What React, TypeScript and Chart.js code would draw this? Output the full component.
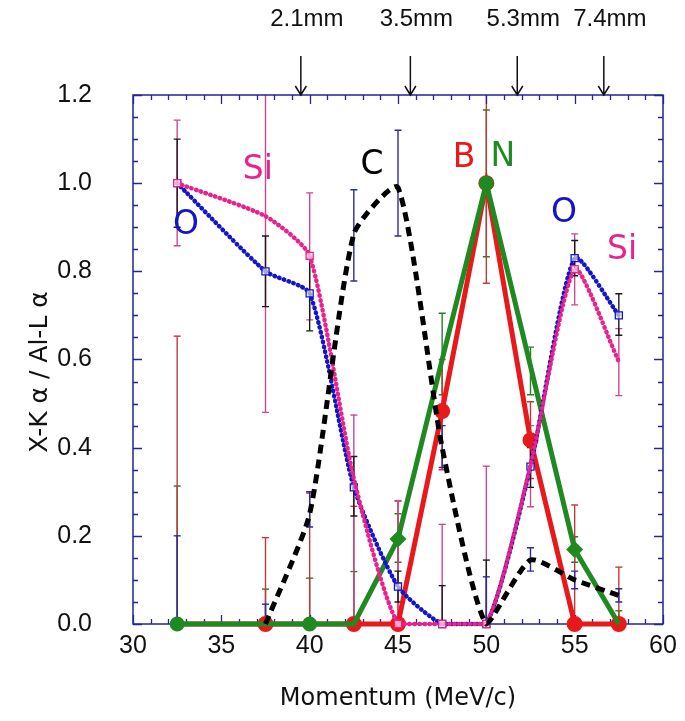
import React, { useEffect, useRef } from 'react';
import { Chart, registerables } from 'chart.js';

Chart.register(...registerables);

// ---- data ----
const momentum = [32.5, 37.5, 40, 42.5, 45, 47.5, 50, 52.5, 55, 57.5];

const oValues = [1.0, 0.8, 0.75, 0.31, 0.085, 0, 0, 0.357, 0.83, 0.7];
const siValues = [1.0, 0.925, 0.835, 0.33, 0, 0, 0, 0.36, 0.805, 0.595];
const cValues = [null, 0, 0.25, 0.885, 0.99, 0.4, 0, 0.145, 0.1, 0.065];
const bValues = [0, 0, 0, 0, 0, 0.483, 1.0, 0.417, 0, 0];
const nValues = [0, 0, 0, 0, 0.193, 0.6, 1.0, 0.585, 0.169, 0];

const oErrLo = [0.9, 0.72, 0.665, 0.245, 0.05, 0, 0, 0.31, 0.79, 0.655];
const oErrHi = [1.1, 0.88, 0.83, 0.38, 0.12, 0.087, 0.145, 0.4, 0.87, 0.749];
const siErrLo = [0.858, 0.48, 0.69, 0, 0, 0, 0, 0.266, 0.724, 0.518];
const siErrHi = [1.143, 1.25, 0.978, 0.474, 0.28, 0.226, 0.358, 0.45, 0.885, 0.67];
const bErrLo = [0, 0, 0, 0, 0, 0.35, 0.773, 0.33, 0, 0];
const bErrHi = [0.653, 0.196, 0.297, 0.267, 0.279, 0.6, 1.23, 0.504, 0.27, 0.129];
const nErrLo = [0, 0, 0, 0, 0.14, 0.52, 0.833, 0.52, 0.14, 0];
const nErrHi = [0.313, 0.079, 0.104, 0.119, 0.25, 0.705, 1.166, 0.628, 0.198, 0.03];
const cErrLo = [0, 0, 0.22, 0.778, 0.88, 0.355, 0, 0.12, 0.08, 0.05];
const cErrHi = [0.2, 0.045, 0.3, 0.985, 1.12, 0.45, 0.107, 0.173, 0.12, 0.08];

const yTickValues = [0, 0.2, 0.4, 0.6, 0.8, 1.0, 1.2];
const xTickValues = [30, 35, 40, 45, 50, 55, 60];

const depthLabels = ['2.1mm', '3.5mm', '5.3mm', '7.4mm'];
const depthMomentum = [39.5, 45.7, 51.75, 56.65];

const elementNames = ['O', 'Si', 'C', 'B', 'N', 'O', 'Si'];

// ---- styles / positions ----
const BLUE = '#1414c8';
const PINK = '#e8238c';
const RED = '#e8191b';
const GREEN = '#1f8a22';
const AXIS = '#23239a';

const elementColors = [BLUE, PINK, '#000000', RED, GREEN, BLUE, PINK];
const elementPosX = [33.0, 37.07, 43.53, 48.74, 50.94, 54.4, 57.68];
const elementPosY = [0.905, 1.03, 1.041, 1.057, 1.059, 0.932, 0.848];

const errorSets = [
  { lo: nErrLo, hi: nErrHi, color: '#2c7a2c' },
  { lo: bErrLo, hi: bErrHi, color: '#c03a3a' },
  { lo: siErrLo, hi: siErrHi, color: '#c84a90' },
  { lo: oErrLo, hi: oErrHi, color: '#1a1a1a' },
  { lo: cErrLo, hi: cErrHi, color: '#2a2aa8' },
];

const pts = (vals: (number | null)[]) => momentum.map((x, i) => ({ x, y: vals[i] }));

const decorPlugin = {
  id: 'decor',
  beforeDatasetsDraw(chart: any) {
    const { ctx, chartArea: a, scales } = chart;
    const xs = scales.x;
    const ys = scales.y;
    ctx.save();
    ctx.beginPath();
    ctx.rect(a.left, a.top, a.right - a.left, a.bottom - a.top);
    ctx.clip();
    errorSets.forEach((s) => {
      ctx.strokeStyle = s.color;
      ctx.lineWidth = 1.4;
      momentum.forEach((m, i) => {
        const px = xs.getPixelForValue(m);
        const y1 = ys.getPixelForValue(s.lo[i]);
        const y2 = ys.getPixelForValue(s.hi[i]);
        ctx.beginPath();
        ctx.moveTo(px, y1);
        ctx.lineTo(px, y2);
        ctx.stroke();
        ctx.beginPath();
        if (s.lo[i] > 0) {
          ctx.moveTo(px - 3.5, y1);
          ctx.lineTo(px + 3.5, y1);
        }
        ctx.moveTo(px - 3.5, y2);
        ctx.lineTo(px + 3.5, y2);
        ctx.stroke();
      });
    });
    ctx.restore();

    ctx.save();
    ctx.strokeStyle = AXIS;
    ctx.lineWidth = 1.5;
    ctx.strokeRect(a.left, a.top, a.right - a.left, a.bottom - a.top);
    ctx.lineWidth = 1.3;
    ctx.beginPath();
    for (let v = 30; v <= 60; v += 1) {
      const px = Math.round(xs.getPixelForValue(v)) + 0.5;
      const len = v % 5 === 0 ? 9 : 5;
      ctx.moveTo(px, a.bottom);
      ctx.lineTo(px, a.bottom - len);
      ctx.moveTo(px, a.top);
      ctx.lineTo(px, a.top + len);
    }
    for (let k = 0; k <= 24; k++) {
      const v = k * 0.05;
      const py = Math.round(ys.getPixelForValue(v)) + 0.5;
      const len = k % 4 === 0 ? 9 : 5;
      ctx.moveTo(a.left, py);
      ctx.lineTo(a.left + len, py);
      ctx.moveTo(a.right, py);
      ctx.lineTo(a.right - len, py);
    }
    ctx.stroke();
    ctx.restore();
  },
  afterDraw(chart: any) {
    const { ctx, chartArea: a, scales } = chart;
    const xs = scales.x;
    const ys = scales.y;
    ctx.save();
    ctx.fillStyle = '#111';
    ctx.textAlign = 'center';
    ctx.textBaseline = 'middle';
    ctx.font = '24px "DejaVu Sans"';
    ctx.fillText('Momentum (MeV/c)', (a.left + a.right) / 2, 699);
    ctx.save();
    ctx.translate(40, 372);
    ctx.rotate(-Math.PI / 2);
    ctx.font = '25px "DejaVu Sans"';
    ctx.fillText('X-K α / Al-L α', 0, 0);
    ctx.restore();

    ctx.strokeStyle = '#111';
    ctx.lineWidth = 1.5;
    ctx.font = '24px "Liberation Sans"';
    depthMomentum.forEach((m, i) => {
      const px = xs.getPixelForValue(m);
      ctx.fillText(depthLabels[i], px + 6, 19);
      ctx.beginPath();
      ctx.moveTo(px, 56);
      ctx.lineTo(px, a.top);
      ctx.moveTo(px - 5.5, a.top - 9);
      ctx.lineTo(px, a.top);
      ctx.lineTo(px + 5.5, a.top - 9);
      ctx.stroke();
    });

    ctx.font = '33px "DejaVu Sans"';
    elementNames.forEach((t, i) => {
      ctx.fillStyle = elementColors[i];
      ctx.fillText(t, xs.getPixelForValue(elementPosX[i]), ys.getPixelForValue(elementPosY[i]));
    });
    ctx.restore();
  },
};

export default function App() {
  const ref = useRef<HTMLCanvasElement>(null);
  useEffect(() => {
    if (!ref.current) return;
    const chart = new Chart(ref.current, {
      type: 'line',
      data: {
        datasets: [
          {
            label: 'C',
            data: pts(cValues),
            borderColor: '#000',
            borderWidth: 5,
            borderDash: [9, 6],
            pointRadius: 0,
            tension: 0.2,
            order: 1,
          },
          {
            label: 'Si',
            data: pts(siValues),
            borderColor: PINK,
            borderWidth: 4.5,
            borderDash: [0.5, 4.5],
            borderCapStyle: 'round',
            pointStyle: 'rect',
            pointRadius: [5, 0, 5, 0, 5, 5, 5, 0, 5, 0],
            pointBorderColor: PINK,
            pointBackgroundColor: 'rgba(255,255,255,0.6)',
            pointBorderWidth: 1.3,
            tension: 0.2,
            order: 2,
          },
          {
            label: 'O',
            data: pts(oValues),
            borderColor: BLUE,
            borderWidth: 4.5,
            borderDash: [0.5, 4.5],
            borderCapStyle: 'round',
            pointStyle: 'rect',
            pointRadius: 5,
            pointBorderColor: BLUE,
            pointBackgroundColor: 'rgba(255,255,255,0.6)',
            pointBorderWidth: 1.3,
            tension: 0.2,
            order: 3,
          },
          {
            label: 'N',
            data: pts(nValues),
            borderColor: GREEN,
            borderWidth: 5,
            pointStyle: ['circle', 'circle', 'circle', 'circle', 'rectRot', 'circle', 'circle', 'circle', 'rectRot', 'circle'],
            pointRadius: [5, 0, 5, 0, 5, 0, 5, 0, 5, 0],
            pointBackgroundColor: GREEN,
            pointBorderColor: GREEN,
            tension: 0,
            order: 4,
          },
          {
            label: 'B',
            data: pts(bValues),
            borderColor: RED,
            borderWidth: 5,
            pointRadius: [0, 5.5, 0, 5.5, 5.5, 5.5, 5.5, 5.5, 5.5, 5.5],
            pointBackgroundColor: RED,
            pointBorderColor: RED,
            tension: 0,
            order: 5,
          },
        ],
      } as any,
      options: {
        responsive: false,
        animation: false,
        clip: false,
        layout: { padding: { top: 95, right: 22, left: 0, bottom: 0 } },
        plugins: { legend: { display: false }, tooltip: { enabled: false } },
        scales: {
          x: {
            type: 'linear',
            min: 30,
            max: 60,
            afterBuildTicks: (s: any) => {
              s.ticks = xTickValues.map((v) => ({ value: v }));
            },
            afterFit: (s: any) => {
              s.height = 97;
            },
            ticks: {
              color: '#111',
              font: { family: 'Liberation Sans', size: 25 },
              padding: 7,
              maxRotation: 0,
            },
            grid: { display: false, drawTicks: false },
            border: { display: false },
          },
          y: {
            type: 'linear',
            min: 0,
            max: 1.2,
            afterBuildTicks: (s: any) => {
              s.ticks = yTickValues.map((v) => ({ value: v }));
            },
            afterFit: (s: any) => {
              s.width = 133;
            },
            ticks: {
              color: '#111',
              font: { family: 'Liberation Sans', size: 25 },
              padding: 41,
              callback: (v: any) => Number(v).toFixed(1),
            },
            grid: { display: false, drawTicks: false },
            border: { display: false },
          },
        },
      } as any,
      plugins: [decorPlugin],
    });
    return () => chart.destroy();
  }, []);
  return (
    <div style={{ position: 'fixed', left: 0, top: 0, width: 685, height: 721, background: '#fff' }}>
      <canvas ref={ref} width={685} height={721} style={{ width: 685, height: 721, display: 'block' }} />
    </div>
  );
}
